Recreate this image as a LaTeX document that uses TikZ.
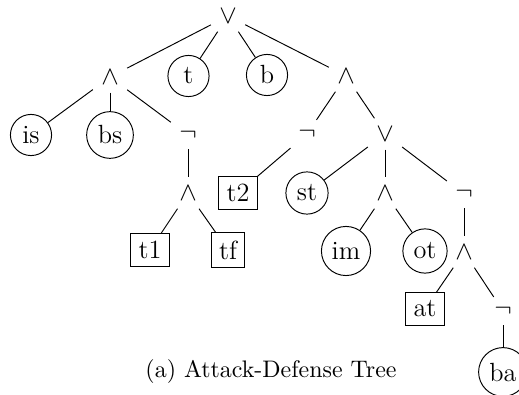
\documentclass[tikz,border=0pt]{standalone}
\begin{document}
\begin{tikzpicture}[x=0.418pt,y=-0.418pt,
  nfont/.style={font=\fontsize{11}{13.6}\selectfont},
  op/.style={nfont,inner sep=0.3333em},
  leaf/.style={nfont,draw,circle,inner sep=2.4pt,minimum size=17.2pt},
  box/.style={nfont,draw,rectangle,inner sep=3.2pt,minimum height=13.8pt},
  conn/.style={draw,line width=0.4pt}]
\useasboundingbox (0,0) rectangle (519,395);
% level 0
\node[op] (root) at (228,16) {$\vee$};
% level 1
\node[op] (andL) at (110,77) {$\wedge$};
\node[leaf] (t) at (188.5,76) {t};
\node[leaf] (b) at (267,75) {b};
\node[op] (andR) at (346,76) {$\wedge$};
% level 2
\node[leaf] (is) at (31,135) {is};
\node[leaf] (bs) at (110,135) {bs};
\node[op] (negL) at (188,135) {$\neg$};
\node[op] (negM) at (307,134) {$\neg$};
\node[op] (orM) at (385,134) {$\vee$};
% level 3
\node[op] (andLL) at (188,193) {$\wedge$};
\node[box] (t2) at (238,193) {t2};
\node[leaf] (st) at (307,193) {st};
\node[op] (andM) at (385,193) {$\wedge$};
\node[op] (negR) at (464,194) {$\neg$};
% level 4
\node[box] (t1) at (150,250) {t1};
\node[box] (tf) at (228,250) {tf};
\node[leaf] (im) at (346,251) {im};
\node[leaf] (ot) at (425,251) {ot};
\node[op] (andR2) at (464,252) {$\wedge$};
% level 5
\node[box] (at) at (425,309) {at};
\node[op] (negB) at (503,311) {$\neg$};
% level 6
\node[leaf] (ba) at (503,372) {ba};
% connectors
\draw[conn] (root) -- (andL);
\draw[conn] (root) -- (t);
\draw[conn] (root) -- (b);
\draw[conn] (root) -- (andR);
\draw[conn] (andL) -- (is);
\draw[conn] (andL) -- (bs);
\draw[conn] (andL) -- (negL);
\draw[conn] (negL) -- (andLL);
\draw[conn] (andLL) -- (t1);
\draw[conn] (andLL) -- (tf);
\draw[conn] (andR) -- (negM);
\draw[conn] (andR) -- (orM);
\draw[conn] (negM) -- (t2);
\draw[conn] (orM) -- (st);
\draw[conn] (orM) -- (andM);
\draw[conn] (orM) -- (negR);
\draw[conn] (andM) -- (im);
\draw[conn] (andM) -- (ot);
\draw[conn] (negR) -- (andR2);
\draw[conn] (andR2) -- (at);
\draw[conn] (andR2) -- (negB);
\draw[conn] (negB) -- (ba);
% caption
\node (cap) at (271,372) {(a) Attack-Defense Tree};
\end{tikzpicture}
\end{document}
